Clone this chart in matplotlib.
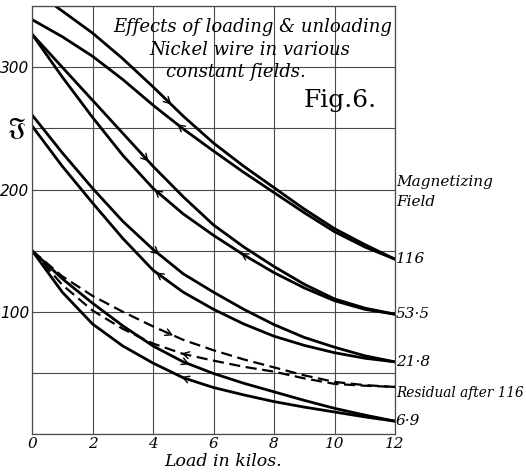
import numpy as np
import matplotlib
matplotlib.use('Agg')
import matplotlib.pyplot as plt

# load in kilos
load = [0, 1, 2, 3, 4, 5, 6, 7, 8, 9, 10, 11, 12]

# intensity of magnetisation
f116_load = [364, 346, 328, 307, 284, 260, 238, 219, 201.5, 184, 168, 155, 143]
f116_unload = [339, 325, 309, 290, 269, 249.5, 231.5, 214, 197.5, 181, 165.5, 153, 143]
f53_load = [327, 300, 273, 246, 219, 194, 171, 153, 137, 122.5, 110.5, 103, 98]
f53_unload = [327, 292, 259, 228, 201, 180, 162.5, 146.5, 132, 119.5, 109, 102, 98]
f21_load = [261, 230, 201, 174, 151, 131, 116, 102, 89.5, 79, 71, 64, 59]
f21_unload = [252, 219, 189, 160, 134, 116, 102, 90, 80, 72.5, 66.5, 62, 59]
f7_load = [150, 127, 107, 88.5, 72, 59, 49.5, 41.5, 34.5, 27.5, 21, 15.5, 10.5]
f7_unload = [150, 116, 90, 72, 58, 46, 38, 32, 26.5, 22, 18, 14, 10.5]
resid_load = [150, 129, 113, 100, 88, 77, 68.5, 61, 54.5, 48, 42.6, 40, 38.5]
resid_unload = [150, 122, 101, 86, 74, 65.5, 60, 55, 51, 45.5, 41, 39.5, 38.5]

field_labels = ['116', '53·5', '21·8', 'Residual after 116', '6·9']

# (series, x where the arrow sits, direction)
arrow_marks = [
    (f116_load, 4.6, 1), (f116_unload, 4.8, -1),
    (f53_load, 3.85, 1), (f53_unload, 4.05, -1), (f53_unload, 6.9, -1),
    (f21_load, 4.2, 1), (f21_unload, 4.1, -1),
    (resid_load, 4.66, 1), (resid_unload, 4.94, -1),
    (f7_load, 5.2, 1), (f7_unload, 4.94, -1),
]

fig = plt.figure(figsize=(5.26, 4.75), dpi=100)
ax = fig.add_axes([0.061, 0.0863, 0.69, 0.9007])

for s in (f116_load, f116_unload, f53_load, f53_unload,
          f21_load, f21_unload, f7_load, f7_unload):
    ax.plot(load, s, color='black', lw=2.0, solid_joinstyle='round')
for s in (resid_load, resid_unload):
    ax.plot(load, s, color='black', lw=1.6, ls=(0, (5, 2.5)))

for s, xa, d in arrow_marks:
    ya = np.interp(xa, load, s)
    yb = np.interp(xa - 0.25 * d, load, s)
    ax.annotate('', xy=(xa, ya), xytext=(xa - 0.25 * d, yb),
                arrowprops=dict(arrowstyle='->,head_length=0.45,head_width=0.25',
                                color='black', lw=1.0, shrinkA=0, shrinkB=0))

ax.set_xlim(0, 12)
ax.set_ylim(0, 350)
ax.set_xticks(range(0, 13, 2))
ax.set_yticks(range(0, 351, 50))
ax.set_xticklabels([str(v) for v in range(0, 13, 2)], fontstyle='italic',
                   fontsize=11, family='DejaVu Serif')
ax.set_yticklabels(['' if v not in (100, 200, 300) else str(v)
                    for v in range(0, 351, 50)],
                   fontstyle='italic', fontsize=11, family='DejaVu Sans')
ax.tick_params(length=0, pad=2)
ax.grid(True, color='#4a4a4a', lw=0.8)
for sp in ax.spines.values():
    sp.set_color('#4a4a4a')
    sp.set_linewidth(0.9)

ax.set_xlabel('Load in kilos.', fontstyle='italic', fontsize=12.5,
              family='DejaVu Serif', labelpad=0)
ax.xaxis.set_label_coords(0.525, -0.045)

ax.text(7.3, 333, 'Effects of loading & unloading', ha='center', va='center',
        fontstyle='italic', fontsize=13, family='DejaVu Serif')
ax.text(7.2, 314.5, 'Nickel wire in various', ha='center', va='center',
        fontstyle='italic', fontsize=13, family='DejaVu Serif')
ax.text(6.75, 296, 'constant fields.', ha='center', va='center',
        fontstyle='italic', fontsize=13, family='DejaVu Serif')
ax.text(11.4, 273, 'Fig.6.', ha='right', va='center', fontsize=18,
        family='DejaVu Serif')
ax.text(-0.2, 250, r'$\mathfrak{J}$', ha='right', va='center', fontsize=17)

ax.text(12.05, 206, 'Magnetizing', ha='left', va='center',
        fontstyle='italic', fontsize=11, family='DejaVu Serif')
ax.text(12.05, 190, 'Field', ha='left', va='center',
        fontstyle='italic', fontsize=11, family='DejaVu Serif')

ends = [f116_load[-1], f53_load[-1], f21_load[-1], resid_load[-1] - 5, f7_load[-1]]
sizes = [11, 11, 11, 9.8, 11]
for lab, y, fs in zip(field_labels, ends, sizes):
    ax.text(12.03, y, lab, ha='left', va='center', fontstyle='italic',
            fontsize=fs, family='DejaVu Serif')

fig.savefig('out.png', dpi=100)
